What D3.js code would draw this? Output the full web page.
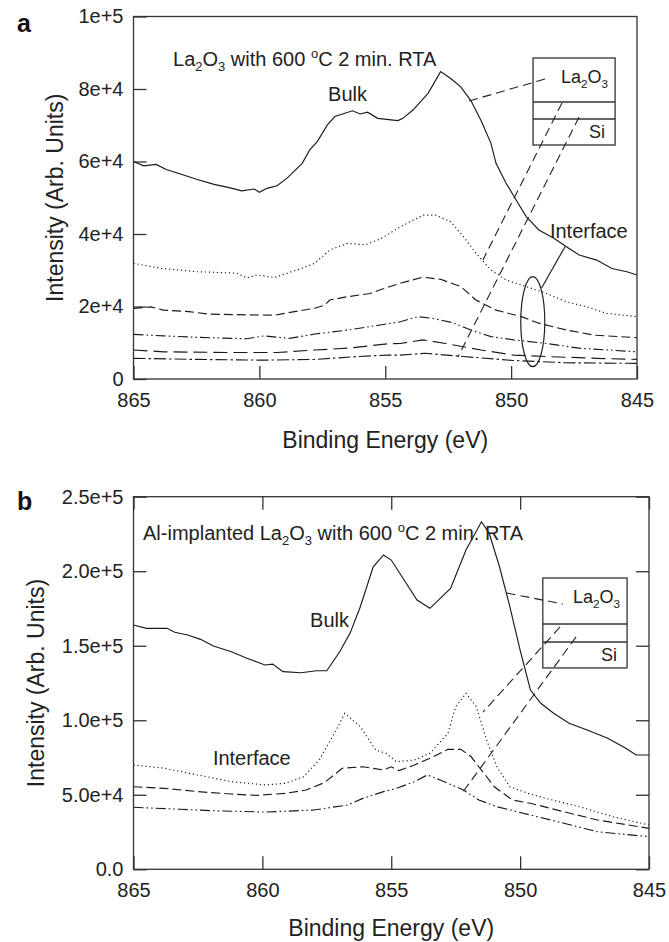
<!doctype html>
<html lang="en">
<head>
<meta charset="utf-8">
<script src="https://d3js.org/d3.v7.min.js"></script>
<style>
  body { margin:0; background:#fff; }
  svg { font-family: "Liberation Sans", Arial, sans-serif; }
  .frame { fill:none; stroke:#333; stroke-width:1.3; }
  .curve { fill:none; stroke:#1a1a1a; stroke-width:1.15; }
  .atitle { font-size:23px; fill:#222; }
  .plabel { font-size:25px; font-weight:bold; fill:#111; }
  .note { font-size:20px; fill:#222; }
  .inset rect, .inset line { fill:none; stroke:#333; stroke-width:1.3; }
  .inset text { font-size:18px; fill:#222; }
  .lead { fill:none; stroke:#222; stroke-width:1.1; stroke-dasharray:9,5; }
  .ring { fill:none; stroke:#222; stroke-width:1.2; }
</style>
</head>
<body>
<div id="chart"></div>
<script>
// binding energy (eV), intensity in units of 1e3 counts

// ---- panel a : La2O3, 600 C 2 min RTA
const aBulk = [[865,60.0],[864.6,58.8],[864.1,59.2],[863.7,57.8],[863.1,56.5],[862.5,55.1],[861.8,53.7],[861.2,52.8],[860.7,51.9],[860.2,52.4],[860.0,51.5],[859.7,52.6],[859.3,53.3],[858.9,55.4],[858.3,59.5],[858.0,63.2],[857.7,65.5],[857.3,70.1],[857.0,72.4],[856.3,74.0],[856.0,73.1],[855.7,73.6],[855.3,71.9],[854.5,71.3],[854.3,71.9],[853.9,74.2],[853.3,78.8],[852.8,84.8],[852.4,82.9],[852.0,80.6],[851.6,76.8],[851.2,71.4],[850.8,65.0],[850.6,59.5],[850.2,54.0],[849.8,49.4],[849.4,44.8],[848.9,41.1],[848.3,38.8],[847.8,36.5],[847.3,34.2],[846.6,32.8],[846.0,30.5],[845.4,29.6],[845.0,28.7]];
const aDot = [[865,31.9],[863.9,30.5],[862.5,29.6],[860.9,29.2],[860.5,27.9],[860.1,28.7],[859.4,28.0],[858.5,30.1],[857.8,31.9],[857.2,35.6],[856.5,37.4],[855.8,37.0],[855.2,38.6],[854.4,42.0],[853.5,45.2],[853.0,45.2],[852.4,43.4],[851.9,39.3],[851.4,34.7],[850.8,30.1],[850.2,27.3],[849.4,25.5],[848.6,23.6],[847.8,21.3],[847.0,19.9],[846.2,18.1],[845.0,17.2]];
const aDash = [[865,19.5],[864.3,19.9],[863.8,19.0],[862.8,18.6],[862.0,17.9],[860.5,17.7],[859.4,17.6],[858.6,18.6],[857.8,19.5],[857.4,20.4],[857.2,21.8],[856.5,22.7],[855.6,23.6],[855.2,24.6],[854.8,25.5],[854.4,26.4],[853.5,28.1],[852.8,27.5],[852.0,25.5],[851.4,21.8],[850.6,19.0],[849.6,17.2],[848.9,15.4],[847.8,13.5],[846.7,12.1],[845.0,11.4]];
const aDdd = [[865,12.3],[863.8,11.9],[862.5,11.5],[860.5,11.1],[859.8,11.9],[858.8,11.2],[857.8,12.4],[856.5,13.5],[855.2,14.9],[854.4,15.8],[853.7,17.2],[853.1,16.7],[852.3,15.5],[851.6,13.5],[850.8,11.7],[849.9,10.8],[848.6,9.8],[847.3,8.5],[845.0,7.5]];
const aLong = [[865,8.0],[863.8,7.5],[861.2,7.3],[859.3,7.3],[857.8,8.0],[856.5,8.5],[854.9,9.7],[854.4,9.8],[853.5,10.8],[852.6,9.8],[851.2,8.0],[849.9,6.6],[848.6,6.2],[846.6,5.7],[845.0,5.4]];
const aDd = [[865,5.7],[862.5,5.4],[859.8,5.2],[857.8,5.4],[856.1,6.2],[854.9,6.6],[854.4,6.6],[853.4,7.1],[851.9,6.2],[849.9,5.1],[847.9,4.5],[845.0,4.3]];
const aYTicks = [0, 20, 40, 60, 80, 100];
const aYLabels = ["0", "2e+4", "4e+4", "6e+4", "8e+4", "1e+5"];

// ---- panel b : Al-implanted La2O3
const bBulk = [[865,163.9],[864.5,161.7],[863.7,161.7],[863.4,159.0],[862.9,157.2],[862.4,154.3],[861.9,149.8],[861.2,146.0],[860.6,141.6],[859.9,137.1],[859.6,137.7],[859.2,132.6],[858.5,131.9],[857.9,133.2],[857.5,133.2],[857.0,146.0],[856.6,158.3],[856.2,176.2],[855.7,203.0],[855.3,210.9],[855.0,207.5],[854.5,194.1],[854.0,180.7],[853.5,175.1],[852.7,188.5],[852.1,214.2],[851.5,233.2],[851.2,225.4],[850.8,203.0],[850.4,176.2],[850.0,147.1],[849.6,120.3],[849.2,111.4],[848.7,104.7],[848.1,98.0],[847.4,93.5],[846.6,87.9],[845.9,81.2],[845.5,76.7],[845.0,76.7]];
const bDot = [[865,70.0],[863.8,67.8],[862.5,63.3],[861.2,58.8],[859.9,56.6],[859.1,57.7],[858.4,62.1],[857.8,73.3],[857.2,91.3],[856.8,104.7],[856.2,95.7],[855.6,80.0],[855.2,77.8],[854.8,72.2],[854.1,73.3],[853.5,77.8],[852.8,91.3],[852.5,109.1],[852.1,118.1],[851.7,109.1],[851.3,86.8],[850.9,68.8],[850.4,55.4],[849.7,51.0],[849.0,47.6],[847.7,42.0],[846.4,35.3],[845.0,29.7]];
const bDash = [[865,55.4],[863.8,54.3],[862.5,52.1],[861.2,50.5],[860.2,49.6],[859.1,51.0],[858.3,53.2],[857.6,58.1],[856.9,67.8],[856.1,68.8],[855.3,66.6],[855.0,68.8],[854.7,66.2],[854.1,70.0],[853.5,74.5],[852.8,80.5],[852.3,80.5],[851.9,75.5],[851.5,66.6],[851.0,55.4],[850.3,46.5],[849.6,44.3],[848.3,38.6],[847.0,33.1],[845.0,27.5]];
const bDdd = [[865,41.6],[863.2,40.3],[861.9,39.3],[859.9,38.4],[858.0,39.8],[856.7,43.1],[856.1,47.6],[855.3,52.1],[854.8,54.3],[854.1,58.8],[853.6,63.3],[853.1,59.9],[852.2,53.2],[851.6,46.5],[850.9,42.0],[849.6,36.4],[848.3,30.9],[847.0,25.2],[845.0,21.9]];
const bYTicks = [0, 50, 100, 150, 200, 250];
const bYLabels = ["0.0", "5.0e+4", "1.0e+5", "1.5e+5", "2.0e+5", "2.5e+5"];

const xTicks = [865, 860, 855, 850, 845];
const dashes = {solid: null, dot: "1.2,2.8", dash: "9,4", ddd: "10,3,1.6,3,1.6,3", long: "14,6", dd: "12,3,2.5,3"};

const svg = d3.select("#chart").append("svg").attr("width", 669).attr("height", 942);

// text with sub/superscripts; each run carries its own dy so the baseline comes back
function richText(g, x, y, parts, cls) {
  const t = g.append("text").attr("class", cls).attr("x", x).attr("y", y);
  let cur = 0;
  parts.forEach(function(p) {
    const off = p[1] === "sub" ? 5 : p[1] === "sup" ? -8 : 0;
    const s = t.append("tspan").attr("dy", off - cur).text(p[0]);
    if (off !== 0) s.attr("font-size", "0.65em");
    cur = off;
  });
  return t;
}

function panel(cfg) {
  const g = svg.append("g").attr("transform", `translate(${cfg.left},${cfg.top})`);
  const x = d3.scaleLinear().domain([865, 845]).range([0, cfg.w]);
  const y = d3.scaleLinear().domain([0, cfg.yMax]).range([cfg.h, 0]);

  const styleAxis = function(sel) {
    sel.select(".domain").remove();
    sel.selectAll(".tick line").attr("stroke", "#333").attr("stroke-width", 1.3);
    sel.selectAll("text").attr("font-size", 20).attr("fill", "#222")
       .attr("font-family", "Liberation Sans, Arial, sans-serif");
  };

  g.append("g").attr("transform", `translate(0,${cfg.h})`)
    .call(d3.axisBottom(x).tickValues(xTicks).tickSizeInner(-13).tickSizeOuter(0).tickPadding(14).tickFormat(d3.format("d")))
    .call(styleAxis);
  g.append("g")
    .call(d3.axisLeft(y).tickValues(cfg.yTicks).tickSizeInner(-13).tickSizeOuter(0).tickPadding(10)
      .tickFormat(function(d, i) { return cfg.yLabels[i]; }))
    .call(styleAxis);
  if (cfg.mirror) {
    g.append("g").call(d3.axisTop(x).tickValues(xTicks).tickSizeInner(-13).tickSizeOuter(0).tickFormat(""))
      .call(styleAxis);
    g.append("g").attr("transform", `translate(${cfg.w},0)`)
      .call(d3.axisRight(y).tickValues(cfg.yTicks).tickSizeInner(-13).tickSizeOuter(0).tickFormat(""))
      .call(styleAxis);
  }

  const line = d3.line().x(d => x(d[0])).y(d => y(d[1]));
  cfg.series.forEach(function(s) {
    g.append("path").attr("class", "curve").attr("d", line(s.data))
      .attr("stroke-dasharray", dashes[s.style]);
  });

  g.append("rect").attr("class", "frame").attr("width", cfg.w).attr("height", cfg.h);

  // texts
  richText(g, x(cfg.title.at[0]), y(cfg.title.at[1]), cfg.title.parts, "note");
  cfg.notes.forEach(function(n) {
    g.append("text").attr("class", "note").attr("x", x(n.at[0])).attr("y", y(n.at[1])).text(n.text);
  });

  // inset layer stack
  const ins = cfg.inset;
  const ig = g.append("g").attr("class", "inset");
  ig.append("rect").attr("x", x(ins.e0)).attr("y", y(ins.levels[0]))
    .attr("width", x(ins.e1) - x(ins.e0)).attr("height", y(ins.levels[3]) - y(ins.levels[0]))
    .attr("fill", "#fff");
  [1, 2].forEach(function(k) {
    ig.append("line").attr("x1", x(ins.e0)).attr("x2", x(ins.e1))
      .attr("y1", y(ins.levels[k])).attr("y2", y(ins.levels[k]));
  });
  richText(ig, x(ins.e1) - 7, y(ins.levels[0]) + 25, [["La"], ["2", "sub"], ["O"], ["3", "sub"]], "")
    .attr("text-anchor", "end");
  ig.append("text").attr("text-anchor", "end").attr("x", x(ins.e1) - 10).attr("y", y(ins.levels[3]) - 7).text("Si");

  cfg.leads.forEach(function(l) {
    g.append("line").attr("class", "lead")
      .attr("x1", x(l[0])).attr("y1", y(l[1])).attr("x2", x(l[2])).attr("y2", y(l[3]));
  });
  if (cfg.ring) {
    const r = cfg.ring;
    g.append("ellipse").attr("class", "ring")
      .attr("cx", x(r.e)).attr("cy", y(r.i))
      .attr("rx", x(r.e - r.de) - x(r.e)).attr("ry", y(r.i - r.di) - y(r.i));
    g.append("line").attr("stroke", "#222").attr("stroke-width", 1.2)
      .attr("x1", x(r.ptr[0])).attr("y1", y(r.ptr[1])).attr("x2", x(r.ptr[2])).attr("y2", y(r.ptr[3]));
  }

  // axis titles and panel letter
  g.append("text").attr("class", "atitle").attr("text-anchor", "middle")
    .attr("x", cfg.w / 2).attr("y", cfg.h + cfg.xTitleGap).text("Binding Energy (eV)");
  g.append("text").attr("class", "atitle").attr("text-anchor", "middle")
    .attr("transform", `translate(${cfg.yTitleX},${cfg.h / 2}) rotate(-90)`).text("Intensity (Arb. Units)");
  g.append("text").attr("class", "plabel").attr("x", 17 - cfg.left).attr("y", cfg.letterY).text(cfg.letter);
}

panel({
  letter: "a", letterY: 15, left: 133.5, top: 16.5, w: 503.5, h: 362.5, yMax: 100,
  yTicks: aYTicks, yLabels: aYLabels, mirror: false, xTitleGap: 69, yTitleX: -71,
  series: [{data: aBulk, style: "solid"}, {data: aDot, style: "dot"}, {data: aDash, style: "dash"},
           {data: aDdd, style: "ddd"}, {data: aLong, style: "long"}, {data: aDd, style: "dd"}],
  title: {at: [863.43, 86.3], parts: [["La"], ["2", "sub"], ["O"], ["3", "sub"], [" with 600 "], ["o", "sup"], ["C 2 min. RTA"]]},
  notes: [{text: "Bulk", at: [857.27, 76.7]}, {text: "Interface", at: [848.46, 38.9]}],
  inset: {e0: 849.13, e1: 845.87, levels: [88.55, 76.41, 71.72, 64.55]},
  leads: [[851.67, 76.69, 848.65, 82.76], [847.98, 76.14, 851.12, 32.83], [847.30, 72.28, 852.11, 6.07]],
  ring: {e: 849.14, i: 15.81, de: 0.477, di: 12.41, ptr: [848.79, 25.10, 847.86, 36.50]}
});

panel({
  letter: "b", letterY: 13, left: 133.5, top: 496.7, w: 515.5, h: 372.6, yMax: 250,
  yTicks: bYTicks, yLabels: bYLabels, mirror: true, xTitleGap: 67, yTitleX: -90,
  series: [{data: bBulk, style: "solid"}, {data: bDot, style: "dot"}, {data: bDash, style: "dash"}, {data: bDdd, style: "ddd"}],
  title: {at: [864.63, 220.9], parts: [["Al-implanted La"], ["2", "sub"], ["O"], ["3", "sub"], [" with 600 "], ["o", "sup"], ["C 2 min. RTA"]]},
  notes: [{text: "Bulk", at: [858.15, 162.6]}, {text: "Interface", at: [861.92, 70.0]}],
  inset: {e0: 849.12, e1: 845.85, levels: [195.45, 164.6, 152.5, 135.1]},
  leads: [[850.52, 185.4, 848.34, 178.0], [848.45, 162.6, 851.44, 105.5], [847.83, 155.9, 852.22, 51.9]],
  ring: null
});
</script>
</body>
</html>
